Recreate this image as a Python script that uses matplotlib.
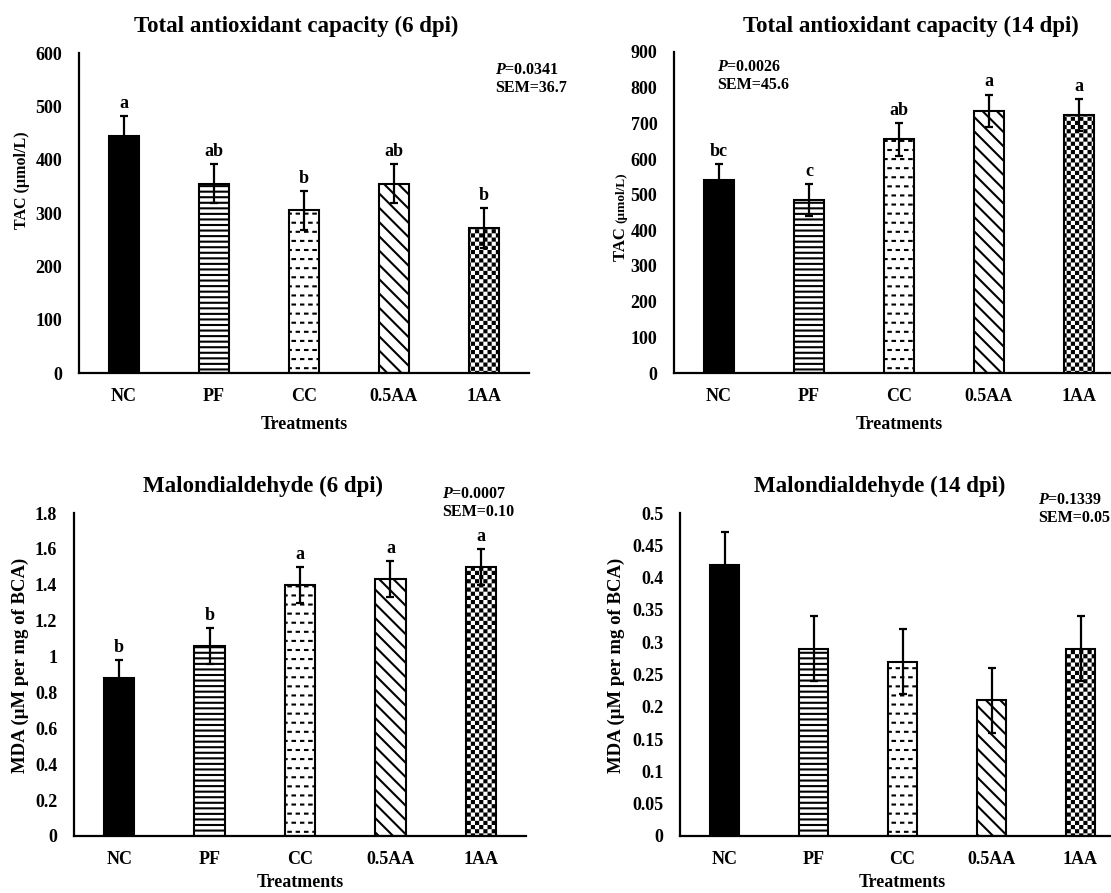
import warnings
warnings.filterwarnings("ignore")
import numpy as np
import matplotlib
matplotlib.use("Agg")
import matplotlib.pyplot as plt
import matplotlib.hatch as mhatch
from matplotlib.path import Path
from matplotlib.ticker import FuncFormatter, FixedLocator

# ---------------- data ----------------
categories = ["NC", "PF", "CC", "0.5AA", "1AA"]

tac6 = [445, 355, 305, 355, 272]
tac6_sem = 36.7
tac6_letters = ["a", "ab", "b", "ab", "b"]

tac14 = [541, 485, 655, 735, 723]
tac14_sem = 45.6
tac14_letters = ["bc", "c", "ab", "a", "a"]

mda6 = [0.88, 1.06, 1.40, 1.43, 1.50]
mda6_sem = 0.10
mda6_letters = ["b", "b", "a", "a", "a"]

mda14 = [0.42, 0.29, 0.27, 0.21, 0.29]
mda14_sem = 0.05
mda14_letters = ["", "", "", "", ""]


# ---------------- custom hatches ----------------
class DashedRows(mhatch.HatchPatternBase):
    def __init__(self, hatch, density):
        self.n = hatch.count("_")
        self.rows = 11 * self.n
        self.cols = 12 * self.n
        self.num_vertices = self.rows * self.cols * 2

    def set_vertices_and_codes(self, vertices, codes):
        k = 0
        frac = 0.30
        for i in range(self.rows):
            y = (i + 0.5) / self.rows
            off = 0.5 if i % 2 else 0.0
            for j in range(self.cols):
                x0 = (j + off + 0.1) / self.cols
                x1 = x0 + frac / self.cols
                vertices[k] = (x0, y)
                vertices[k + 1] = (x1, y)
                codes[k] = Path.MOVETO
                codes[k + 1] = Path.LINETO
                k += 2


class DenseDiag(mhatch.HatchPatternBase):
    """Top-left to bottom-right diagonals, 14 per inch."""
    def __init__(self, hatch, density):
        self.n = hatch.count("~")
        self.num_lines = 14 * self.n
        self.num_vertices = (self.num_lines + 1) * 2 if self.n else 0

    def set_vertices_and_codes(self, vertices, codes):
        steps = np.linspace(-0.5, 0.5, self.num_lines + 1)
        vertices[0::2, 0] = 0.0 + steps
        vertices[0::2, 1] = 1.0 + steps
        vertices[1::2, 0] = 1.0 + steps
        vertices[1::2, 1] = 0.0 + steps
        codes[0::2] = Path.MOVETO
        codes[1::2] = Path.LINETO


class Checker(mhatch.HatchPatternBase):
    def __init__(self, hatch, density):
        self.n = hatch.count("#")
        self.cells = 12 * self.n
        self.num_vertices = (self.cells * self.cells // 2) * 5

    def set_vertices_and_codes(self, vertices, codes):
        c = 1.0 / self.cells
        inset = 0.0104
        k = 0
        for i in range(self.cells):
            for j in range(self.cells):
                if (i + j) % 2 == 0:
                    x0, x1 = j * c + inset, (j + 1) * c - inset
                    y0, y1 = i * c + inset, (i + 1) * c - inset
                    vertices[k:k + 5] = [[x0, y0], [x1, y0], [x1, y1], [x0, y1], [x0, y0]]
                    codes[k:k + 5] = [Path.MOVETO, Path.LINETO, Path.LINETO,
                                      Path.LINETO, Path.CLOSEPOLY]
                    k += 5


mhatch._hatch_types.append(DashedRows)
mhatch._hatch_types.append(DenseDiag)
mhatch._hatch_types.append(Checker)

# ---------------- style ----------------
plt.rcParams["font.family"] = ["Liberation Serif", "DejaVu Serif"]
plt.rcParams["font.weight"] = "bold"
plt.rcParams["axes.labelweight"] = "bold"
plt.rcParams["hatch.linewidth"] = 1.5
plt.rcParams["hatch.color"] = "black"
plt.rcParams["mathtext.fontset"] = "custom"
plt.rcParams["mathtext.it"] = "Liberation Serif:italic:bold"
plt.rcParams["mathtext.rm"] = "Liberation Serif:bold"

W, H = 1111, 893
fig = plt.figure(figsize=(W / 100, H / 100), dpi=100)

fills = ["black", "white", "white", "white", "white"]
hatches = [None, "---", "_", "~", "##"]


def px_axes(left, right, bottom, top):
    return fig.add_axes([left / W, 1 - bottom / H, (right - left) / W, (bottom - top) / H])


def panel(ax, vals, sem, letters, ymax, nticks, title, title_xy, ptxt, pxy,
          ylab_parts, ylab_x, ylab_y, xlabpad):
    x = np.arange(len(categories))
    for i in range(len(categories)):
        ax.bar(x[i], vals[i], width=0.335, color=fills[i], edgecolor="black",
               linewidth=1.5, hatch=hatches[i], zorder=2)
    ax.errorbar(x, vals, yerr=sem, fmt="none", ecolor="black", elinewidth=1.6,
                capsize=3.2, capthick=1.6, zorder=3)
    for i, lt in enumerate(letters):
        if lt:
            ax.annotate(lt, (x[i], vals[i] + sem), xytext=(0, 3), textcoords="offset points",
                        ha="center", va="bottom", fontsize=13, fontweight="bold")
    ax.set_xlim(-0.5, 4.5)
    ax.set_ylim(0, ymax)
    ax.yaxis.set_major_locator(FixedLocator(np.linspace(0, ymax, nticks + 1)))
    ax.yaxis.set_major_formatter(FuncFormatter(lambda v, _: f"{v:g}"))
    ax.set_xticks(x)
    ax.set_xticklabels(categories)
    for s in ["top", "right"]:
        ax.spines[s].set_visible(False)
    for s in ["left", "bottom"]:
        ax.spines[s].set_linewidth(1.6)
    ax.tick_params(axis="both", length=0, labelsize=13)
    ax.tick_params(axis="x", pad=11)
    ax.tick_params(axis="y", pad=12)
    ax.set_xlabel("Treatments", fontsize=13, fontweight="bold", labelpad=xlabpad)
    fig.text(title_xy[0] / W, 1 - title_xy[1] / H, title, ha="center", va="baseline",
             fontsize=16.5, fontweight="bold")
    fig.text(pxy[0] / W, 1 - pxy[1] / H, ptxt[0], ha="left", va="center", fontsize=11.5,
             fontweight="bold")
    fig.text(pxy[0] / W, 1 - (pxy[1] + 18) / H, ptxt[1], ha="left", va="center",
             fontsize=11.5, fontweight="bold")
    # y label (possibly mixed sizes), stacked from the bottom up
    y = ylab_y
    for txt, fs in ylab_parts:
        t = fig.text(ylab_x / W, 1 - y / H, txt, rotation=90, ha="center", va="bottom",
                     fontsize=fs, fontweight="bold")
        fig.canvas.draw()
        bb = t.get_window_extent()
        y -= bb.height


ax1 = px_axes(79, 529, 373, 53)
panel(ax1, tac6, tac6_sem, tac6_letters, 600, 6, "Total antioxidant capacity (6 dpi)", (296, 32),
      ("$P$=0.0341", "SEM=36.7"), (495, 70), [("TAC (µmol/L)", 11.5)], 22, 229, 8)

ax2 = px_axes(674, 1124, 373, 52)
panel(ax2, tac14, tac14_sem, tac14_letters, 900, 9, "Total antioxidant capacity (14 dpi)", (911, 32),
      ("$P$=0.0026", "SEM=45.6"), (717, 67), [("TAC ", 12), ("(µmol/L)", 9.5)], 621, 261, 8)

ax3 = px_axes(74, 526, 836, 513)
panel(ax3, mda6, mda6_sem, mda6_letters, 1.8, 9, "Malondialdehyde (6 dpi)", (263, 492),
      ("$P$=0.0007", "SEM=0.10"), (442, 494), [("MDA (µM per mg of BCA)", 13.5)], 20, 773, 4)

ax4 = px_axes(680, 1125, 836, 513)
panel(ax4, mda14, mda14_sem, mda14_letters, 0.5, 10, "Malondialdehyde (14 dpi)", (880, 492),
      ("$P$=0.1339", "SEM=0.05"), (1038, 500), [("MDA (µM per mg of BCA)", 13.5)], 616, 773, 4)

fig.savefig("out.png", dpi=100)
